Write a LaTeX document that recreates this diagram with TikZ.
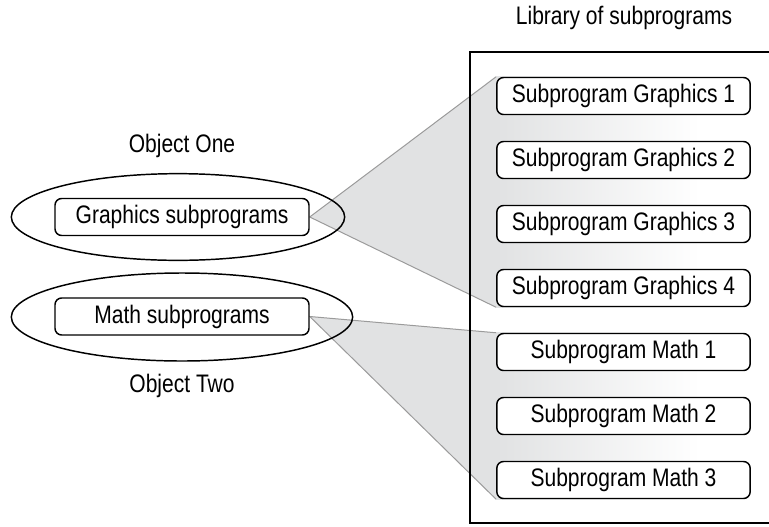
\documentclass[tikz,border=0pt]{standalone}
\usepackage{fontspec}
\setmainfont[FakeStretch=0.83]{Liberation Sans}
\usetikzlibrary{shapes.geometric, backgrounds}
\definecolor{cshade}{HTML}{E1E2E3}
\definecolor{cedge}{HTML}{9B9B9B}
\tikzset{
  every picture/.style={font=\fontsize{19}{22}\selectfont, line width=1.1pt},
  sub/.style={draw, fill=white, rounded corners=5pt, minimum width=190pt, minimum height=27.75pt, inner sep=0pt},
  obj/.style={draw, ellipse, inner sep=0pt},
  fan/.style={fill=cshade},
  fanedge/.style={draw=cedge, line width=0.75pt},
}

\begin{document}
\begin{tikzpicture}[x=0.75pt, y=-0.75pt]
  \useasboundingbox (0,0) rectangle (769,526);
  % library frame, cut off on the right
  \draw (769,52) -- (470,52) -- (470,523) -- (769,523);
  \node (libtitle) at (624,18) {Library of subprograms};
  \foreach \k in {1,2,3,4} \node[sub] (g\k) at (623.5,{32+64*\k}) {Subprogram Graphics \k};
  \foreach \k in {1,2,3} \node[sub] (m\k) at (623.5,{288+64*\k}) {Subprogram Math \k};
  % the two objects
  \node[obj, minimum width=250pt, minimum height=65pt] (obj1) at (178,217) {};
  \node[obj, minimum width=256pt, minimum height=66pt] (obj2) at (182,317) {};
  \node[sub, minimum width=190.5pt] (gfx) at (182,217) {Graphics subprograms};
  \node[sub, minimum width=190.5pt] (math) at (182,316.5) {Math subprograms};
  \node (onecap) at (182,146) {Object One};
  \node (twocap) at (182,386) {Object Two};
  \begin{scope}[on background layer]
    \fill[left color=cshade, right color=white] (g1.north west) rectangle (g4.south -| 700,0);
    \fill[left color=cshade, right color=white] (m1.north west) rectangle (m3.south -| 700,0);
    \fill[fan] (gfx.east) -- (g1.north west) -- (g4.south west) -- cycle;
    \fill[fan] (math.east) -- (m1.north west) -- (m3.south west) -- cycle;
    \draw[fanedge] (g1.north west) -- (gfx.east) -- (g4.south west);
    \draw[fanedge] (m1.north west) -- (math.east) -- (m3.south west);
  \end{scope}
\end{tikzpicture}
\end{document}
